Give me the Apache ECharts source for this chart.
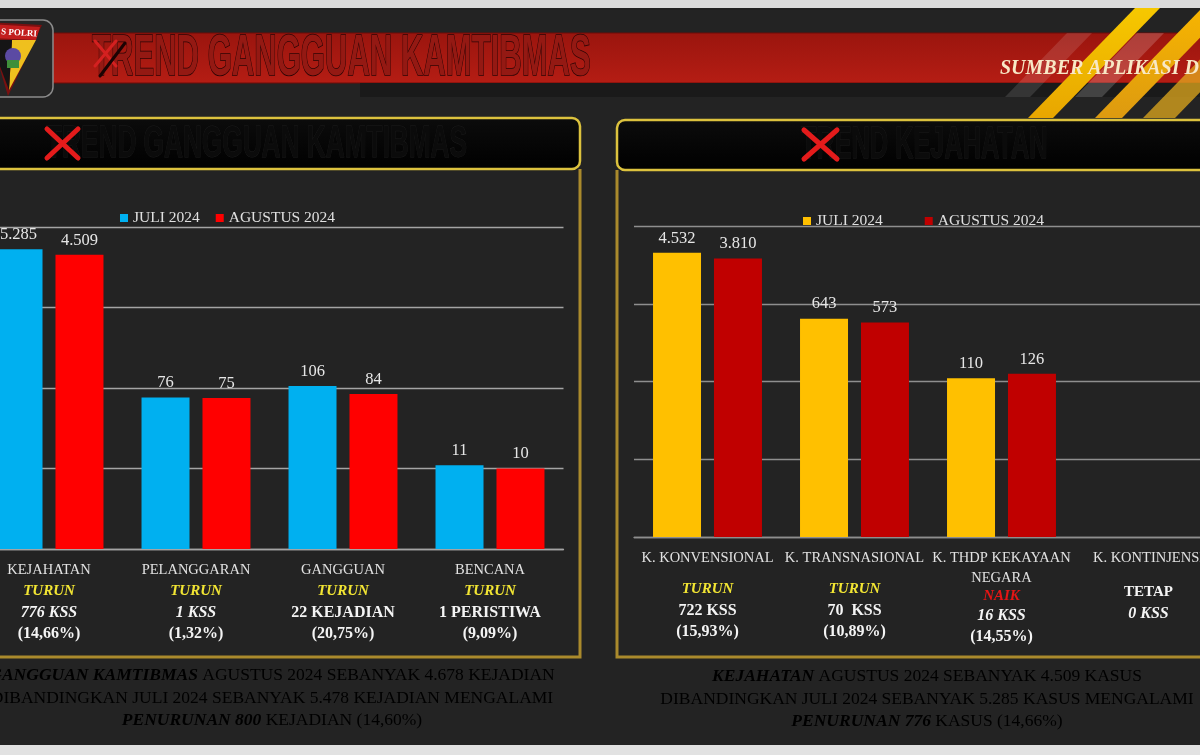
<!DOCTYPE html>
<html>
<head>
<meta charset="utf-8">
<title>Trend Gangguan Kamtibmas</title>
<script src="https://cdn.jsdelivr.net/npm/echarts@6/dist/echarts.min.js"></script>
<style>
    html, body { margin: 0; padding: 0; background: #232323; overflow: hidden; }
    body { position: relative; width: 1200px; height: 755px; }
    /* kanvas sedikit lebih lebar: sisi kiri grafik terpotong seperti di foto */
    #main { position: absolute; left: -25px; top: 0; width: 1250px; height: 755px; }
</style>
</head>
<body>
<div id="main"></div>
<script>
// data gangguan kamtibmas (kiri)
var kiriKategori = ['KEJAHATAN', 'PELANGGARAN', 'GANGGUAN', 'BENCANA'];
var kiriJuli = [5285, 76, 106, 11];
var kiriAgustus = [4509, 75, 84, 10];
var kiriStatus = ['TURUN', 'TURUN', 'TURUN', 'TURUN'];
var kiriSelisih = ['776 KSS', '1 KSS', '22 KEJADIAN', '1 PERISTIWA'];
var kiriPersen = ['(14,66%)', '(1,32%)', '(20,75%)', '(9,09%)'];

// data kejahatan (kanan)
var kananKategori = ['K. KONVENSIONAL', 'K. TRANSNASIONAL', 'K. THDP KEKAYAAN\nNEGARA', 'K. KONTINJENSI'];
var kananJuli = [4532, 643, 110, 0];
var kananAgustus = [3810, 573, 126, 0];
var kananStatus = ['TURUN', 'TURUN', 'NAIK', 'TETAP'];
var kananSelisih = ['722 KSS', '70  KSS', '16 KSS', '0 KSS'];
var kananPersen = ['(15,93%)', '(10,89%)', '(14,55%)', ''];

var legendNama = ['JULI 2024', 'AGUSTUS 2024'];

var FONT = '"Liberation Serif", "DejaVu Serif", serif';
var GESER = 25; // offset kanvas ke kiri
var chart = echarts.init(document.getElementById('main'));

function titik(v) { // 5285 -> 5.285
    return String(v).replace(/\B(?=(\d{3})+(?!\d))/g, '.');
}
function tanpaNol(arr) { // log axis: 0 tidak digambar
    return arr.map(function (v) { return v > 0 ? v : '-'; });
}

function batang(nama, data, warna, idx) {
    return {
        name: nama,
        type: 'bar',
        xAxisIndex: idx,
        yAxisIndex: idx,
        data: tanpaNol(data),
        barWidth: 48,
        barGap: '27%',
        itemStyle: { color: warna },
        label: {
            show: true,
            position: 'top',
            distance: 6,
            color: '#e6e6e6',
            fontFamily: FONT,
            fontSize: 16.5,
            formatter: function (p) { return titik(p.value); }
        }
    };
}

var richDasar = {
    n: { fontFamily: FONT, fontSize: 14.5, color: '#e2e2e2', lineHeight: 21 },
    n2: { fontFamily: FONT, fontSize: 14.5, color: '#e2e2e2', lineHeight: 20 },
    g: { fontSize: 10, lineHeight: 11 },
    g2: { fontSize: 10, lineHeight: 14 },
    s: { fontFamily: FONT, fontSize: 15, fontWeight: 'bold', fontStyle: 'italic', color: '#f2e533', lineHeight: 21 },
    sr: { fontFamily: FONT, fontSize: 15, fontWeight: 'bold', fontStyle: 'italic', color: '#e51515', lineHeight: 17 },
    st: { fontFamily: FONT, fontSize: 15, fontWeight: 'bold', color: '#f4f4f4', lineHeight: 21 },
    c: { fontFamily: FONT, fontSize: 16, fontWeight: 'bold', color: '#f4f4f4', lineHeight: 21 },
    ci: { fontFamily: FONT, fontSize: 16, fontWeight: 'bold', fontStyle: 'italic', color: '#f4f4f4', lineHeight: 21 },
    p: { fontFamily: FONT, fontSize: 16, fontWeight: 'bold', color: '#f4f4f4', lineHeight: 21 }
};

function labelKiri(v, i) {
    return '{n|' + v + '}\n{s|' + kiriStatus[i] + '}\n{' + (i < 2 ? 'ci' : 'c') + '|' +
        kiriSelisih[i] + '}\n{p|' + kiriPersen[i] + '}';
}
function labelKanan(v, i) {
    var baris = v.split('\n').map(function (t) { return '{n2|' + t + '}'; });
    if (baris.length === 1) baris.push(i === 3 ? '{g2| }' : '{g| }');
    var st = kananStatus[i] === 'NAIK' ? 'sr' : (kananStatus[i] === 'TETAP' ? 'st' : 's');
    baris.push('{' + st + '|' + kananStatus[i] + '}');
    baris.push('{' + (i >= 2 ? 'ci' : 'c') + '|' + kananSelisih[i] + '}');
    if (kananPersen[i]) baris.push('{p|' + kananPersen[i] + '}');
    return baris.join('\n');
}

function sumbuX(idx, kategori, fmt, warnaGaris) {
    return {
        type: 'category',
        gridIndex: idx,
        data: kategori,
        axisTick: { show: false },
        axisLine: { lineStyle: { color: warnaGaris, width: 1.3 } },
        axisLabel: { interval: 0, margin: 11, fontFamily: FONT, formatter: fmt, rich: richDasar }
    };
}
function sumbuY(idx, warnaGaris) {
    return {
        type: 'log',
        logBase: 10,
        gridIndex: idx,
        min: 1,
        max: 10000,
        axisLabel: { show: false },
        axisLine: { show: false },
        axisTick: { show: false },
        splitLine: { lineStyle: { color: warnaGaris, width: 1.3 } }
    };
}

function garis(x1, y1, x2, y2, warna, lebar) {
    return { type: 'line', shape: { x1: x1, y1: y1, x2: x2, y2: y2 },
        style: { stroke: warna, lineWidth: lebar, lineCap: 'round' } };
}
function jajar(pts, fill) {
    return { type: 'polygon', shape: { points: pts }, style: { fill: fill } };
}
function kuning(a, b) {
    return new echarts.graphic.LinearGradient(0, 0, 0, 1, [
        { offset: 0, color: a }, { offset: 1, color: b }]);
}

var hiasan = [
    // pinggir foto
    { type: 'rect', shape: { x: -30, y: 0, width: 1260, height: 8 }, style: { fill: '#dcdcdc' } },
    { type: 'rect', shape: { x: -30, y: 745, width: 1260, height: 10 }, style: { fill: '#e2e2e2' } },
    // pita merah judul
    { type: 'rect', shape: { x: 40, y: 33, width: 1170, height: 50 },
        style: { fill: kuning('#9a150e', '#b51d14'), stroke: '#6e0d08', lineWidth: 1 } },
    { type: 'rect', shape: { x: 360, y: 83, width: 850, height: 14 }, style: { fill: '#1a1a1a' } },
    // garis miring kuning
    jajar([[1067, 33], [1092, 33], [1030, 97], [1005, 97]], 'rgba(255,255,255,0.12)'),
    jajar([[1137, 33], [1164, 33], [1102, 97], [1075, 97]], 'rgba(255,255,255,0.18)'),
    jajar([[1135, 8], [1160, 8], [1053, 118], [1028, 118]], kuning('#f6c800', '#e8a600')),
    jajar([[1202, 8], [1229, 8], [1122, 118], [1095, 118]], kuning('#f7b500', '#dd9a10')),
    jajar([[1250, 8], [1282, 8], [1175, 118], [1143, 118]], 'rgba(225,170,30,0.75)'),
    // judul utama
    { type: 'text', x: 92, y: 59, scaleX: 0.545,
        style: { text: 'TREND GANGGUAN KAMTIBMAS', font: 'bold 57px "Liberation Sans", sans-serif',
            fill: '#941913', stroke: '#2a0505', lineWidth: 1.6, verticalAlign: 'middle' } },
    garis(95, 41, 116, 66, '#d42020', 3),
    garis(116, 41, 95, 66, '#d42020', 3),
    garis(100, 76, 125, 43, '#1c0303', 3),
    { type: 'text', x: 1000, y: 69,
        style: { text: 'SUMBER APLIKASI D', font: 'italic bold 20px "Liberation Serif", serif',
            fill: '#f8e8c6', verticalAlign: 'middle',
            shadowColor: 'rgba(0,0,0,0.8)', shadowBlur: 2, shadowOffsetX: 2, shadowOffsetY: 2 } },
    // logo
    { type: 'rect', shape: { x: -12, y: 20, width: 65, height: 77, r: 10 },
        style: { fill: '#262626', stroke: '#8c8c8c', lineWidth: 1.5 } },
    jajar([[-14, 22], [42, 25], [8, 96]], '#7a1010'),
    jajar([[-12, 24], [40, 27], [36, 40], [-10, 38]], '#c21d1d'),
    jajar([[12, 40], [36, 40], [9, 90]], '#efc01e'),
    jajar([[-10, 40], [12, 40], [9, 90]], '#151515'),
    { type: 'circle', shape: { cx: 13, cy: 56, r: 8 }, style: { fill: '#5b4aa3' } },
    { type: 'rect', shape: { x: 7, y: 60, width: 12, height: 8 }, style: { fill: '#3f8f3a' } },
    { type: 'text', x: 19, y: 33, rotation: -0.06,
        style: { text: 'S POLRI', font: 'bold 9px "Liberation Serif", serif', fill: '#ffffff',
            align: 'center', verticalAlign: 'middle' } },
    // panel kiri
    { type: 'rect', shape: { x: -30, y: 118, width: 610, height: 51, r: 8 },
        style: { fill: kuning('#0c0c0c', '#000000'), stroke: '#dcc23e', lineWidth: 2.5 } },
    { type: 'polyline', shape: { points: [[580, 169], [580, 657], [-30, 657]] },
        style: { stroke: '#aa8a2c', lineWidth: 3, fill: null } },
    { type: 'text', x: 46, y: 145, scaleX: 0.596,
        style: { text: 'TREND GANGGUAN KAMTIBMAS', font: 'bold 44px "Liberation Sans", sans-serif',
            fill: '#0b0b0b', stroke: '#1d1d1d', lineWidth: 1, verticalAlign: 'middle' } },
    garis(47, 129, 78, 158, '#e41b1b', 5),
    garis(78, 129, 47, 158, '#e41b1b', 5),
    // panel kanan
    { type: 'rect', shape: { x: 617, y: 120, width: 640, height: 50, r: 8 },
        style: { fill: kuning('#0c0c0c', '#000000'), stroke: '#dcc23e', lineWidth: 2.5 } },
    { type: 'polyline', shape: { points: [[617, 170], [617, 657], [1240, 657]] },
        style: { stroke: '#aa8a2c', lineWidth: 3, fill: null } },
    { type: 'text', x: 801, y: 146, scaleX: 0.575,
        style: { text: 'TREND KEJAHATAN', font: 'bold 44px "Liberation Sans", sans-serif',
            fill: '#0b0b0b', stroke: '#1d1d1d', lineWidth: 1, verticalAlign: 'middle' } },
    garis(804, 130, 837, 159, '#e41b1b', 5),
    garis(837, 130, 804, 159, '#e41b1b', 5)
];

var richRingkas = {
    g: { fontFamily: FONT, fontSize: 17.5, fontWeight: 'bold', fontStyle: 'italic', color: '#efc04a', lineHeight: 22.5 },
    y: { fontFamily: FONT, fontSize: 17.5, fontWeight: 'bold', fontStyle: 'italic', color: '#f3ee2a', lineHeight: 22.5 },
    b: { fontFamily: FONT, fontSize: 17.5, fontWeight: 'bold', fontStyle: 'italic', color: '#f4f4f4', lineHeight: 22.5 },
    w: { fontFamily: FONT, fontSize: 17.5, color: '#e4e4e4', lineHeight: 22.5 }
};
hiasan.push({ type: 'text', x: 272, y: 698,
    style: { text: '{g|GANGGUAN KAMTIBMAS}{w| AGUSTUS 2024 SEBANYAK 4.678 KEJADIAN}\n' +
        '{w|DIBANDINGKAN JULI 2024 SEBANYAK 5.478 KEJADIAN MENGALAMI}\n' +
        '{y|PENURUNAN}{b| 800}{w| KEJADIAN (14,60%)}',
        align: 'center', verticalAlign: 'middle', rich: richRingkas } });
hiasan.push({ type: 'text', x: 927, y: 699,
    style: { text: '{g|KEJAHATAN}{w| AGUSTUS 2024 SEBANYAK 4.509 KASUS}\n' +
        '{w|DIBANDINGKAN JULI 2024 SEBANYAK 5.285 KASUS MENGALAMI}\n' +
        '{y|PENURUNAN}{b| 776}{w| KASUS (14,66%)}',
        align: 'center', verticalAlign: 'middle', rich: richRingkas } });

var legendText = { color: '#e0e0e0', fontFamily: FONT, fontSize: 15.5 };

var option = {
    backgroundColor: '#232323',
    animation: false,
    textStyle: { fontFamily: FONT },
    legend: [
        { left: 115 + GESER, top: 205, icon: 'rect', itemWidth: 8, itemHeight: 8, itemGap: 16, textStyle: legendText,
            data: [{ name: legendNama[0], itemStyle: { color: '#00b0f0' } },
                   { name: legendNama[1], itemStyle: { color: '#ff0000' } }] },
        { left: 798 + GESER, top: 208, icon: 'rect', itemWidth: 8, itemHeight: 8, itemGap: 42, textStyle: legendText,
            data: [{ name: legendNama[0], itemStyle: { color: '#ffc000' } },
                   { name: legendNama[1], itemStyle: { color: '#c00000' } }] }
    ],
    grid: [
        { left: 0.5, top: 227, width: 588, height: 322 },
        { left: 634 + GESER, top: 226, width: 588, height: 311 }
    ],
    xAxis: [
        sumbuX(0, kiriKategori, labelKiri, '#a4a4a4'),
        sumbuX(1, kananKategori, labelKanan, '#8e8e8e')
    ],
    yAxis: [sumbuY(0, '#a4a4a4'), sumbuY(1, '#8e8e8e')],
    series: [
        batang(legendNama[0], kiriJuli, '#00b0f0', 0),
        batang(legendNama[1], kiriAgustus, '#ff0000', 0),
        batang(legendNama[0], kananJuli, '#ffc000', 1),
        batang(legendNama[1], kananAgustus, '#c00000', 1)
    ],
    graphic: { elements: [{ type: 'group', x: GESER, y: 0, children: hiasan }] }
};
chart.setOption(option);
</script>
</body>
</html>
